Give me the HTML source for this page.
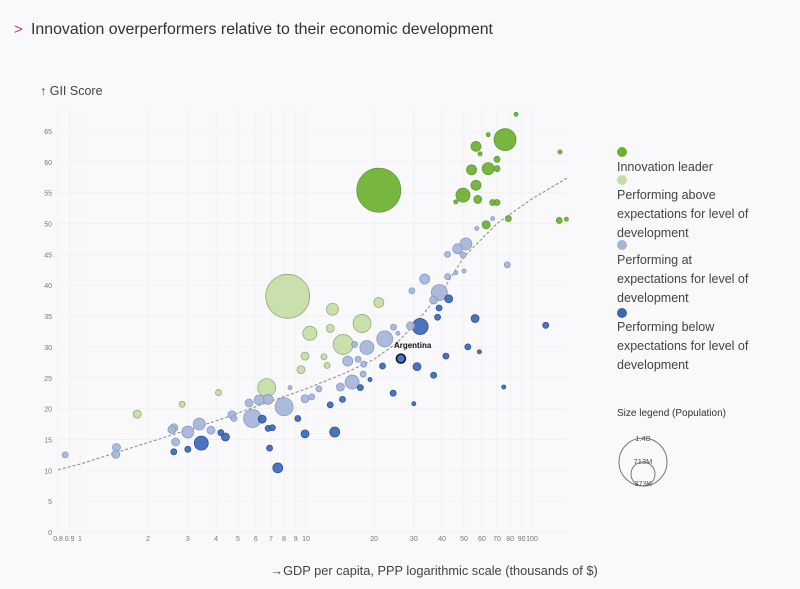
<!DOCTYPE html>
<html><head><meta charset="utf-8">
<style>
html,body{margin:0;padding:0;background:#f9f8fa;width:800px;height:589px;overflow:hidden;font-family:"Liberation Sans",sans-serif;}
svg{position:absolute;left:0;top:0}
</style></head>
<body>
<svg width="800" height="589">
<text x="14" y="34" font-size="15" fill="#b03a8c">&gt;</text>
<text x="31" y="34" font-size="15.9" fill="#333">Innovation overperformers relative to their economic development</text>
<text x="40" y="95" font-size="12.5" fill="#444">↑ GII Score</text>
<text x="434" y="575" font-size="12.8" fill="#444" text-anchor="middle">→GDP per capita, PPP logarithmic scale (thousands of $)</text>
<g id="grid"></g><g id="axes"></g><g id="trend"></g><g id="marks"></g>
<g id="legend" font-size="12.5" fill="#444">
<circle cx="622" cy="152" r="5" fill="#6bb12f"/>
<text x="617" y="171">Innovation leader</text>
<circle cx="622" cy="180" r="5" fill="#c6dda5"/>
<text x="617" y="199"><tspan x="617">Performing above</tspan><tspan x="617" dy="19">expectations for level of</tspan><tspan x="617" dy="19">development</tspan></text>
<circle cx="622" cy="245" r="5" fill="#a5b4d8"/>
<text x="617" y="264"><tspan x="617">Performing at</tspan><tspan x="617" dy="19">expectations for level of</tspan><tspan x="617" dy="19">development</tspan></text>
<circle cx="622" cy="313" r="5" fill="#3b68b5"/>
<text x="617" y="331"><tspan x="617">Performing below</tspan><tspan x="617" dy="19">expectations for level of</tspan><tspan x="617" dy="19">development</tspan></text>
<text x="617" y="416" font-size="10" fill="#333">Size legend (Population)</text>
<circle cx="643" cy="462" r="24" fill="none" stroke="#777"/>
<circle cx="643" cy="474" r="12" fill="none" stroke="#777"/>
<text x="643" y="441" font-size="7.5" text-anchor="middle" fill="#555">1.4B</text>
<text x="643" y="464" font-size="7.5" text-anchor="middle" fill="#555">713M</text>
<text x="643" y="486" font-size="7.5" text-anchor="middle" fill="#555">373K</text>
</g>
</svg>
<script>
const gdp=[85,76,64,56.5,58.9,133,70,54,64,70,21,56.5,49.5,57.5,67,70,46,62.7,78.6,132,142,
8.3,21,13.1,17.7,10.4,12.8,14.6,9.9,12,12.4,9.5,6.7,4.1,2.83,1.79,0.86,
67,57,51,46.9,42.3,49.5,42.3,50,46,33.5,29.4,38.9,36.7,24.4,29,25.5,22.3,18.6,16.4,15.3,17,18,17.9,16,14.2,11.4,10.6,9.9,8.5,8,6.8,6.2,5.6,5.8,4.7,4.8,3.37,3.8,2.6,2.55,3.0,2.65,1.45,1.44,
77.7,42.8,38.8,38.2,32,56,115,52,58.5,26.3,41.6,21.8,31,36.7,24.3,19.2,17.4,30,75,14.5,12.8,9.2,6.4,6.8,7.1,9.9,13.4,4.2,4.4,3.44,3.0,2.6,6.9,7.5];
const score=[67.7,63.6,64.4,62.5,61.3,61.6,60.4,58.7,58.9,58.9,55.4,56.2,54.6,53.9,53.4,53.4,53.5,49.8,50.8,50.5,50.7,
38.2,37.2,36.1,33.8,32.2,33,30.4,28.5,28.4,27,26.3,23.4,22.6,20.7,19.1,12.5,
50.8,49.2,46.7,45.9,45,44.9,41.4,42.3,42,41,39.1,38.8,37.6,33.2,33.4,32.2,31.3,29.9,30.4,27.7,28,27.2,25.6,24.3,23.5,23.2,21.9,21.6,23.4,20.3,21.5,21.4,20.9,18.4,19,18.4,17.5,16.5,16.9,16.6,16.2,14.6,13.7,12.6,
43.3,37.8,36.3,34.8,33.3,34.6,33.5,30,29.2,28.1,28.5,26.9,26.8,25.4,22.5,24.7,23.4,20.8,23.5,21.5,20.6,18.4,18.3,16.8,16.9,15.9,16.2,16.1,15.4,14.4,13.4,13,13.6,10.4];
const population=[12,350,12,72,12,12,26,72,104,26,1400,72,142,46,26,26,12,46,26,26,12,
1400,72,104,234,142,46,289,46,26,26,46,234,26,26,46,26,
12,12,104,72,26,26,26,12,12,72,26,185,46,26,46,12,185,142,26,72,26,26,26,142,46,26,26,46,12,234,72,72,46,234,46,26,104,46,46,46,104,46,46,46,
26,46,26,26,185,46,26,26,12,46,26,26,46,26,26,12,26,12,12,26,26,26,46,26,26,46,72,26,46,142,26,26,26,72];
const category=[].concat(Array(21).fill('leader'),Array(15).fill('above'),Array(46).fill('at'),Array(34).fill('below'));
const trendGdp=[0.8,1,2,4,7,10,15,20,25,30,40,50,70,100,145];
const trendScore=[10.1,11,14.5,18,21.2,23.2,25.8,28,30.5,33.5,39,44.6,50,54,57.5];
const yTicks=[0,5,10,15,20,25,30,35,40,45,50,55,60,65];
const xTicks=[0.8,0.9,1,2,3,4,5,6,7,8,9,10,20,30,40,50,60,70,80,90,100];

const NS='http://www.w3.org/2000/svg';
const X=g=>80+226*Math.log10(g);
const Y=v=>532-v*6.17;
const R=p=>Math.max(2,22*Math.sqrt(p/1400));
function mk(t,a,parent){const e=document.createElementNS(NS,t);for(const k in a)e.setAttribute(k,a[k]);document.getElementById(parent).appendChild(e);return e;}
const grid='#f1f0f3';
yTicks.forEach(v=>{
  const l=mk('line',{x1:57,x2:567,y1:Y(v),y2:Y(v),stroke:grid,'stroke-width':1},'grid');
  
  
  const t=mk('text',{x:52,y:Y(v)+3,'font-size':7,fill:'#777','text-anchor':'end'},'axes');
  t.textContent=v;
  
  
});
xTicks.forEach(g=>{
  const l=mk('line',{x1:X(g),x2:X(g),y1:110,y2:532,stroke:grid,'stroke-width':1},'grid');
  
  
  const t=mk('text',{x:X(g),y:541,'font-size':7,fill:'#777','text-anchor':'middle'},'axes');
  t.textContent=g;
  
  
});
const pts=trendGdp.map((g,i)=>X(g)+','+Y(trendScore[i])).join(' ');
const tl=mk('polyline',{points:pts,fill:'none',stroke:'#888','stroke-width':1,'stroke-dasharray':'3,2'},'trend');


const fills={leader:'#6bb12f',above:'#c6dda5',at:'#a5b4d8',below:'#3b68b5'};
const strokes={leader:'#5f9a3a',above:'#8fae78',at:'#8a9bc4',below:'#2d559a'};
const order=gdp.map((g,i)=>i).sort((a,b)=>population[b]-population[a]);
order.forEach(i=>{
  const c=mk('circle',{cx:X(gdp[i]),cy:Y(score[i]),r:R(population[i]),fill:fills[category[i]],stroke:strokes[category[i]],'stroke-width':0.8,'fill-opacity':0.92},'marks');
  
  
});
const arg=mk('circle',{cx:X(26.3),cy:Y(28.1),r:4.5,fill:'none',stroke:'#0d1b3a','stroke-width':1.6},'marks');


const at=mk('text',{x:X(24.5),y:Y(30.3)+3,'font-size':8,'font-weight':'bold',fill:'#111'},'marks');
at.textContent='Argentina';


</script>
</body></html>
